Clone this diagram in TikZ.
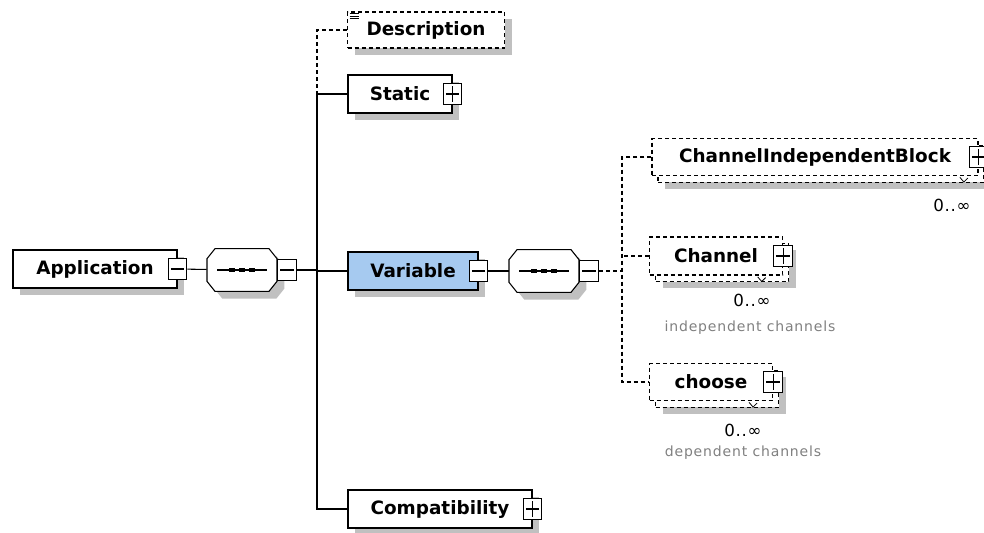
\documentclass[tikz,border=0pt]{standalone}
\usepackage{fontspec}
\setmainfont{DejaVu Sans}
\newfontfamily\notefont[LetterSpace=6]{DejaVu Sans}
\newfontfamily\countfont[LetterSpace=4]{DejaVu Sans}
\usetikzlibrary{positioning,shadows}

\definecolor{varblue}{RGB}{166,202,240}
\definecolor{shadowgray}{RGB}{192,192,192}
\definecolor{notegray}{RGB}{128,128,128}

\tikzset{
  elem/.style={draw, fill=white, line width=0.8pt, minimum height=28.5pt, inner sep=0pt,
    font=\bfseries\fontsize{13.8}{16}\selectfont,
    drop shadow={shadow xshift=5.5pt, shadow yshift=-5.5pt, fill=shadowgray, opacity=1}},
  dashline/.style={dash pattern=on 3pt off 2.25pt},
  optelem/.style={elem, dash pattern=on 3pt off 2.25pt},
  multielem/.style={draw, fill=white, line width=0.8pt, minimum height=27.75pt, inner sep=0pt,
    dash pattern=on 3pt off 2.25pt,
    font=\bfseries\fontsize{13.8}{16}\selectfont,
    drop shadow={shadow xshift=10pt, shadow yshift=-10pt, fill=shadowgray, opacity=1},
    general shadow={shadow xshift=4.5pt, shadow yshift=-5pt, draw=black, fill=white}},
  minus/.style={draw, fill=white, line width=0.8pt, minimum width=14pt, minimum height=16pt, inner sep=0pt,
    path picture={\draw[line width=0.8pt] ([xshift=2pt]path picture bounding box.west)
      -- ([xshift=-2pt]path picture bounding box.east);}},
  plus/.style={draw, fill=white, line width=0.8pt, minimum width=14pt, minimum height=16pt, inner sep=0pt,
    path picture={\draw[line width=0.8pt] ([xshift=2pt]path picture bounding box.west)
      -- ([xshift=-2pt]path picture bounding box.east)
      ([yshift=-2pt]path picture bounding box.north) -- ([yshift=2pt]path picture bounding box.south);}},
  pics/seqbox/.style={code={
    \fill[shadowgray, shift={(5.5pt,-5.5pt)}] (-20.25pt,16pt) -- (20.25pt,16pt) -- (26.25pt,8.5pt)
      -- (26.25pt,-8.5pt) -- (20.25pt,-16pt) -- (-20.25pt,-16pt) -- (-26.25pt,-8.5pt) -- (-26.25pt,8.5pt) -- cycle;
    \draw[fill=white, line width=0.8pt] (-20.25pt,16pt) -- (20.25pt,16pt) -- (26.25pt,8.5pt)
      -- (26.25pt,-8.5pt) -- (20.25pt,-16pt) -- (-20.25pt,-16pt) -- (-26.25pt,-8.5pt) -- (-26.25pt,8.5pt) -- cycle;
    \draw[line width=0.8pt] (-18.75pt,0pt) -- (18.75pt,0pt);
    \foreach \d in {-7.5pt,0pt,7.5pt}
      \fill (\d,0pt) +(-2.2pt,-1.8pt) rectangle +(2.2pt,1.8pt);
    \node[minimum width=52.5pt, minimum height=32pt, inner sep=0pt] (-box) at (0pt,0pt) {};
  }},
  count/.style={font=\countfont\fontsize{12.5}{14}\selectfont, inner sep=0pt},
  note/.style={font=\notefont\fontsize{10.5}{12}\selectfont, text=notegray, inner sep=0pt},
  conn/.style={line width=0.8pt}
}

\begin{document}
\begin{tikzpicture}[x=0.75pt,y=-0.75pt]
  \useasboundingbox (0,0) rectangle (984,532);

  % main sequence
  \node[elem, minimum width=123pt] (app) at (95,269) {Application};
  \node[minus] (app-x) at (app.east) {};
  \pic (seq1) at (242,270) {seqbox};
  \node[minus, anchor=west] (seq1-x) at (seq1-box.east) {};

  \node[optelem, minimum width=117.75pt, minimum height=27pt] (desc) at (426,30) {Description};
  \node[elem, minimum width=78pt] (stat) at (400,94) {Static};
  \node[plus] (stat-x) at (stat.east) {};
  \node[elem, fill=varblue, minimum width=97.5pt] (var) at (413,271) {Variable};
  \node[minus] (var-x) at (var.east) {};
  \node[elem, minimum width=138pt] (compat) at (440,509) {Compatibility};
  \node[plus] (compat-x) at (compat.east) {};

  % inner sequence
  \pic (seq2) at (544,271) {seqbox};
  \node[minus, anchor=west] (seq2-x) at (seq2-box.east) {};

  \node[multielem, minimum width=244.5pt] (cib) at (815,157) {ChannelIndependentBlock};
  \node[plus] (cib-x) at (cib.east) {};
  \node[count] (cib-n) at (952,205) {0..∞};

  \node[multielem, minimum width=99.75pt, minimum height=28.5pt] (chan) at (716,256) {Channel};
  \node[plus] (chan-x) at (chan.east) {};
  \node[count] (chan-n) at (752,300) {0..∞};
  \node[note] (chan-t) at (750,328) {independent channels};

  \node[multielem, minimum width=92.25pt] (choose) at (711,382) {choose};
  \node[plus] (choose-x) at (choose.east) {};
  \node[count] (choose-n) at (743,430) {0..∞};
  \node[note] (choose-t) at (743,453) {dependent channels};

  % documentation mark
  \foreach \d in {1.5pt,3.5pt,5.5pt}
    \draw[line width=0.6pt] ([shift={(2pt,-\d)}]desc.north west) -- ++(7pt,0);

  % occurrence marks
  \draw[line width=0.6pt] ([shift={(-14pt,-1pt)}]cib.south east) -- ++(3pt,-3.5pt) -- ++(3pt,3pt);
  \draw[line width=0.6pt] ([shift={(-19pt,-1pt)}]chan.south east) -- ++(3pt,-3.5pt) -- ++(3pt,3pt);
  \draw[line width=0.6pt] ([shift={(-18pt,-1pt)}]choose.south east) -- ++(3pt,-3.5pt) -- ++(3pt,3pt);

  % connectors
  \coordinate (bus) at (317,0);
  \coordinate (bus2) at (622,0);
  \draw[conn] (app-x) -- (seq1-box);
  \draw[conn] (seq1-x) -- (seq1-x -| bus);
  \draw[conn, dashline] (desc.west) -- (desc.west -| bus) -- (stat.west -| bus);
  \draw[conn] (stat.west) -- (stat.west -| bus) -- (compat.west -| bus) -- (compat.west);
  \draw[conn] (var.west) -- (var.west -| bus);
  \draw[conn] (var-x) -- (seq2-box);
  \draw[conn, dashline] (seq2-x) -- (seq2-x -| bus2);
  \draw[conn, dashline] (cib.west) -- (cib.west -| bus2) -- (choose.west -| bus2) -- (choose.west);
  \draw[conn, dashline] (chan.west) -- (chan.west -| bus2);
\end{tikzpicture}
\end{document}
